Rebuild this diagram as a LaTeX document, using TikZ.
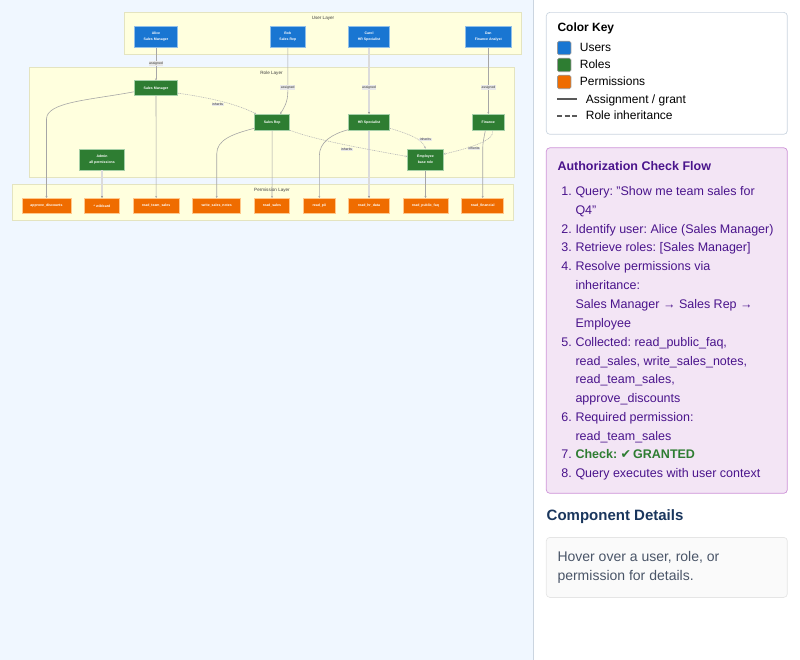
\documentclass[tikz,border=0pt]{standalone}
\usepackage{fontspec}
\setmainfont{Liberation Sans}
\newfontfamily\symfont{DejaVu Sans}
\usetikzlibrary{arrows.meta}
\frenchspacing

\definecolor{panebg}{HTML}{F0F7FF}
\definecolor{panerule}{HTML}{CBD5E0}
\definecolor{layerbg}{HTML}{FFFFDE}
\definecolor{layerrule}{HTML}{E4E4C0}
\definecolor{userblue}{HTML}{1976D2}
\definecolor{userrule}{HTML}{90BFE8}
\definecolor{rolegreen}{HTML}{2E7D32}
\definecolor{rolerule}{HTML}{A5CFA7}
\definecolor{permorange}{HTML}{EF6C00}
\definecolor{permrule}{HTML}{FFC78A}
\definecolor{flowbg}{HTML}{F3E5F5}
\definecolor{flowrule}{HTML}{CE93D8}
\definecolor{flowtext}{HTML}{4A148C}
\definecolor{headblue}{HTML}{1A365D}
\definecolor{slate}{HTML}{4A5568}

\tikzset{
  usernode/.style={fill=userblue,draw=userrule,line width=.6pt,text=white,inner sep=0pt,
    minimum height=21.3pt,align=center,font=\fontsize{3.5}{6}\selectfont\bfseries},
  rolenode/.style={usernode,fill=rolegreen,draw=rolerule},
  permnode/.style={usernode,fill=permorange,draw=permrule,minimum height=15pt},
  layerbox/.style={fill=layerbg,draw=layerrule,line width=.8pt},
  layertitle/.style={inner sep=0pt,text=black!75,font=\fontsize{4.6}{6}\selectfont},
  link/.style={draw=black!35,line width=.6pt,-{Stealth[length=2pt,width=2pt]}},
  widelink/.style={link,draw=black!14,line width=2pt,-{Stealth[length=2pt,width=2pt,black!45]}},
  inherit/.style={link,draw=black!28,dash pattern=on 1pt off .8pt},
  edgetag/.style={fill=black!9,text=black!80,inner sep=.6pt,
    font=\fontsize{3.4}{4}\selectfont},
  card/.style={rounded corners=3.5pt,line width=.7pt},
  sidetext/.style={anchor=base west,inner sep=0pt,font=\fontsize{12}{18}\selectfont},
  flowtextstyle/.style={sidetext,text=flowtext,font=\fontsize{12.5}{18}\selectfont},
  sidehead/.style={sidetext,font=\fontsize{12.5}{18}\selectfont\bfseries},
  swatch/.style={draw=black!40,line width=.6pt,rounded corners=1.5pt,minimum width=13.5pt,
    minimum height=13.5pt,inner sep=0pt},
}

\begin{document}
\begin{tikzpicture}[x=1pt,y=-1pt]
  \useasboundingbox (0,0) rectangle (800,660);
  \fill[panebg] (0,0) rectangle (533,660);
  \draw[panerule,line width=.8pt] (533.5,0) -- (533.5,660);

  % layers
  \draw[layerbox] (124.5,12) rectangle (521.5,54.5);
  \draw[layerbox] (29.3,67) rectangle (514,177);
  \draw[layerbox] (12.7,184.5) rectangle (513.5,220);
  \node[layertitle] (userlayer) at (323,18.3) {User Layer};
  \node[layertitle] (rolelayer) at (271.5,73.3) {Role Layer};
  \node[layertitle] (permlayer) at (272,190.3) {Permission Layer};

  % users
  \node[usernode,minimum width=43.4pt] (alice) at (156,36.7) {Alice\\Sales Manager};
  \node[usernode,minimum width=35pt] (bob) at (287.8,36.7) {Bob\\Sales Rep};
  \node[usernode,minimum width=41.4pt] (carol) at (369,36.7) {Carol\\HR Specialist};
  \node[usernode,minimum width=46pt] (dan) at (488.3,36.7) {Dan\\Finance Analyst};

  % roles
  \node[rolenode,minimum width=43.4pt,minimum height=15pt] (salesmgr) at (156,88.2) {Sales Manager};
  \node[rolenode,minimum width=44.6pt] (admin) at (102,159.5) {Admin\\all permissions};
  \node[rolenode,minimum width=35pt,minimum height=16pt] (salesrep) at (272.2,122.3) {Sales Rep};
  \node[rolenode,minimum width=41.4pt,minimum height=16pt] (hrspec) at (369,122.3) {HR Specialist};
  \node[rolenode,minimum width=32pt,minimum height=16pt] (finance) at (488.3,122.3) {Finance};
  \node[rolenode,minimum width=35.6pt] (employee) at (425.5,159.6) {Employee\\base role};

  % permissions
  \node[permnode,minimum width=49pt] (approve) at (46.5,205.8) {approve\_discounts};
  \node[permnode,minimum width=34.6pt] (wildcard) at (102,205.8) {* wildcard};
  \node[permnode,minimum width=46.3pt] (teamsales) at (156.2,205.8) {read\_team\_sales};
  \node[permnode,minimum width=48pt] (salesnotes) at (216.7,205.8) {write\_sales\_notes};
  \node[permnode,minimum width=35.4pt] (readsales) at (272,205.8) {read\_sales};
  \node[permnode,minimum width=32pt] (readpii) at (319.3,205.8) {read\_pii};
  \node[permnode,minimum width=40.6pt] (readhr) at (369,205.8) {read\_hr\_data};
  \node[permnode,minimum width=45pt] (readfaq) at (425.5,205.8) {read\_public\_faq};
  \node[permnode,minimum width=42pt] (readfin) at (482.7,205.8) {read\_financial};

  % straight links
  \foreach \from/\to in
  {alice/salesmgr, dan/finance, salesmgr/teamsales, salesrep/readsales, employee/readfaq}
    \draw[link] (\from) -- (\to);
  \foreach \from/\to in
  {carol/hrspec, admin/wildcard, hrspec/readhr}
    \draw[widelink] (\from) -- (\to);

  % curved links
  \draw[link] (bob.south) -- (287.8,92) .. controls (287.8,102) and (284,108) .. ([xshift=8pt]salesrep.north);
  \draw[link] ([yshift=-3.6pt]salesmgr.west) .. controls (90,100) and (46.5,102) .. (46.5,119) -- (approve.north);
  \draw[link] ([yshift=-6pt]salesrep.west) .. controls (232,134) and (216.7,140) .. (216.7,154) -- (salesnotes.north);
  \draw[link] ([yshift=-7.5pt]hrspec.west) .. controls (332,134) and (319.3,142) .. (319.3,156) -- (readpii.north);
  \draw[link] ([xshift=-3pt]finance.south) .. controls (484,138) and (482.7,142) .. (482.7,150) -- (readfin.north);

  % inheritance
  \draw[inherit] ([yshift=-5pt]salesmgr.east) .. controls (205,97) and (235,103) .. ([xshift=-16pt]salesrep.north);
  \draw[inherit] ([yshift=-8pt]salesrep.east) .. controls (318,141) and (372,150) .. ([yshift=3pt]employee.west);
  \draw[inherit] ([yshift=-6pt]hrspec.east) .. controls (405,133) and (422,138) .. (employee.north);
  \draw[inherit] ([xshift=4pt]finance.south) .. controls (496,140) and (470,148) .. ([yshift=5.5pt]employee.east);

  % edge labels
  \foreach \n/\x/\y/\t in
  {t1/156/63.6/assigned, t2/287.8/87.6/assigned, t3/369/87.6/assigned, t4/488.5/87.6/assigned,
   t5/217.7/104.4/inherits, t6/346.7/149.5/inherits, t7/425.5/139.5/inherits, t8/474/148.6/inherits}
    \node[edgetag] (\n) at (\x,\y) {\t};

  % colour key
  \draw[card,fill=white,draw=panerule] (546.3,12.4) rectangle (787.3,134.3);
  \node[sidehead,font=\fontsize{12}{18}\selectfont\bfseries] (keyhead) at (557.3,32) {Color Key};
  \node[swatch,fill=userblue] (keyuser) at (564.2,48) {};
  \node[swatch,fill=rolegreen] (keyrole) at (564.2,65) {};
  \node[swatch,fill=permorange] (keyperm) at (564.2,82) {};
  \node[sidetext] (usertext) at (579.7,52) {Users};
  \node[sidetext] (roletext) at (579.7,69) {Roles};
  \node[sidetext] (permtext) at (579.7,86) {Permissions};
  \node[sidetext] (granttext) at (585.7,103.2) {Assignment / grant};
  \node[sidetext] (inherittext) at (585.7,120) {Role inheritance};
  \coordinate (granta) at (557,99);
  \coordinate (grantb) at (577,99);
  \coordinate (inha) at (557,116);
  \coordinate (inhb) at (577,116);
  \draw[black!65,line width=1.2pt] (granta) -- (grantb);
  \draw[black!65,line width=1.2pt,dash pattern=on 5pt off 2.5pt] (inha) -- (inhb);

  % check flow
  \draw[card,fill=flowbg,draw=flowrule] (546.3,147.8) rectangle (787.3,493.3);
  \node[sidehead,text=flowtext] (flowhead) at (557.3,171) {Authorization Check Flow};
  \foreach \n/\y/\num/\t in
  {a/196/1./{Query: "Show me team sales for}, b/215//Q4",
   c/233.4/2./{Identify user: Alice (Sales Manager)}, d/252/3./{Retrieve roles: [Sales Manager]},
   e/271/4./{Resolve permissions via}, f/290//inheritance:,
   g/308.4//{Sales Manager → Sales Rep →}, h/327//Employee,
   i/346/5./{Collected: read\_public\_faq,}, j/365//{read\_sales, write\_sales\_notes,},
   k/383.4//{read\_team\_sales,}, l/402//approve\_discounts,
   m/421/6./{Required permission:}, n/440//read\_team\_sales,
   p/477/8./{Query executes with user context}}
  {
    \node[flowtextstyle] (line\n) at (575.3,\y) {\t};
    \node[flowtextstyle,anchor=base east] (num\n) at (572,\y) {\num};
  }
  \node[flowtextstyle,anchor=base east] (numo) at (572,458) {7.};
  \node[sidetext,text=rolegreen,font=\fontsize{12.5}{18}\selectfont\bfseries] (lineo) at (575.3,458) {Check: {\symfont ✔}\,GRANTED};

  % details
  \node[sidetext,text=headblue,font=\fontsize{15}{18}\selectfont\bfseries] (dethead) at (546.5,520) {Component Details};
  \draw[card,fill=black!2,draw=black!10] (546.3,537.4) rectangle (787.3,597.4);
  \node[sidetext,text=slate,font=\fontsize{14}{18}\selectfont] (hovera) at (557.3,561.8) {Hover over a user, role, or};
  \node[sidetext,text=slate,font=\fontsize{14}{18}\selectfont] (hoverb) at (557.3,580.6) {permission for details.};
\end{tikzpicture}
\end{document}
